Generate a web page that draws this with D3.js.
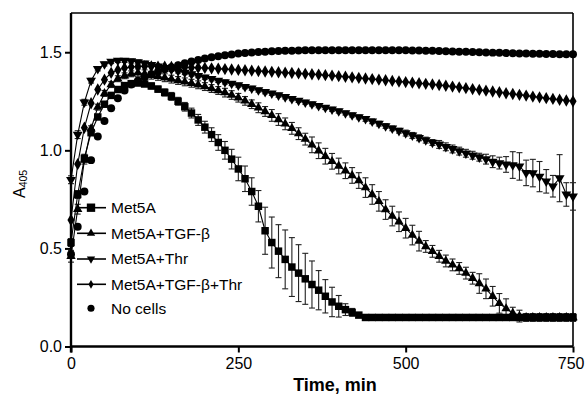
<!DOCTYPE html>
<html><head><meta charset="utf-8">
<script src="https://cdn.jsdelivr.net/npm/d3@7"></script>
<style>
html,body{margin:0;padding:0;background:#fff;}
svg{display:block;font-family:"Liberation Sans",Arial,Helvetica,sans-serif;}
</style></head>
<body><svg id="c" width="585" height="395"></svg>
<script>
const times = [0,10,20,30,40,50,60,70,80,90,100,110,120,130,140,150,160,170,180,190,200,210,220,230,240,250,260,270,280,290,300,310,320,330,340,350,360,370,380,390,400,410,420,430,440,450,460,470,480,490,500,510,520,530,540,550,560,570,580,590,600,610,620,630,640,650,660,670,680,690,700,710,720,730,740,750];

const met5a = [0.53,0.775,0.96,1.09,1.17,1.235,1.28,1.31,1.33,1.34,1.343,1.338,1.328,1.312,1.295,1.275,1.25,1.222,1.19,1.155,1.118,1.08,1.04,1.0,0.955,0.905,0.855,0.79,0.715,0.59,0.53,0.486,0.444,0.405,0.374,0.345,0.316,0.287,0.256,0.227,0.205,0.188,0.174,0.16,0.148,0.148,0.148,0.148,0.148,0.148,0.148,0.148,0.148,0.148,0.148,0.148,0.148,0.148,0.148,0.148,0.148,0.148,0.148,0.148,0.148,0.148,0.148,0.148,0.148,0.148,0.148,0.148,0.148,0.148,0.148,0.148];
const met5aErr = [0.02,0.02,0.02,0.015,0.01,0.01,0.01,0.01,0.01,0.01,0.012,0.012,0.015,0.015,0.018,0.02,0.02,0.022,0.025,0.028,0.03,0.035,0.04,0.045,0.05,0.06,0.065,0.07,0.08,0.12,0.13,0.135,0.15,0.15,0.145,0.13,0.12,0.1,0.085,0.075,0.055,0.03,0.02,0.012,0,0,0,0,0,0,0,0,0,0,0,0,0,0,0,0,0,0,0,0,0,0,0,0,0,0,0,0,0,0,0,0];

const tgf = [0.46,0.70,0.95,1.11,1.22,1.29,1.335,1.365,1.38,1.39,1.395,1.39,1.383,1.377,1.37,1.363,1.356,1.349,1.342,1.334,1.325,1.315,1.305,1.294,1.282,1.268,1.252,1.235,1.217,1.198,1.178,1.157,1.135,1.112,1.085,1.057,1.028,0.998,0.97,0.944,0.92,0.896,0.872,0.846,0.81,0.775,0.74,0.698,0.665,0.636,0.603,0.568,0.537,0.51,0.485,0.46,0.436,0.416,0.398,0.374,0.348,0.321,0.294,0.256,0.22,0.193,0.17,0.155,0.148,0.148,0.148,0.148,0.148,0.148,0.148,0.148];
const tgfErr = [0.03,0.025,0.02,0.015,0.015,0.015,0.015,0.015,0.015,0.015,0.02,0.02,0.02,0.02,0.02,0.02,0.02,0.02,0.02,0.02,0.02,0.02,0.02,0.022,0.022,0.022,0.022,0.022,0.025,0.025,0.03,0.03,0.03,0.03,0.03,0.03,0.04,0.04,0.04,0.04,0.04,0.04,0.04,0.04,0.05,0.05,0.05,0.05,0.05,0.05,0.05,0.05,0.05,0.03,0.03,0.03,0.03,0.03,0.03,0.03,0.03,0.05,0.05,0.05,0.05,0.05,0.03,0.03,0.02,0.02,0.02,0.02,0.02,0.02,0.02,0.02];

const thr = [0.85,1.08,1.245,1.355,1.415,1.44,1.452,1.458,1.458,1.455,1.45,1.444,1.436,1.428,1.42,1.412,1.404,1.396,1.388,1.38,1.372,1.364,1.356,1.348,1.34,1.332,1.324,1.316,1.307,1.298,1.29,1.281,1.272,1.263,1.254,1.245,1.236,1.227,1.218,1.209,1.2,1.19,1.18,1.17,1.16,1.148,1.136,1.124,1.112,1.1,1.088,1.076,1.064,1.052,1.04,1.03,1.018,1.007,0.996,0.985,0.975,0.965,0.955,0.942,0.935,0.928,0.925,0.918,0.885,0.884,0.866,0.842,0.817,0.858,0.775,0.765];
const thrErr = [0.02,0.02,0.015,0.012,0.01,0.01,0.01,0.01,0.01,0.01,0.01,0.01,0.01,0.01,0.01,0.01,0.01,0.01,0.01,0.01,0.01,0.01,0.01,0.01,0.01,0.01,0.01,0.01,0.01,0.01,0.01,0.01,0.01,0.01,0.01,0.01,0.01,0.01,0.01,0.01,0.01,0.01,0.01,0.01,0.012,0.012,0.012,0.012,0.012,0.012,0.015,0.015,0.015,0.015,0.015,0.02,0.02,0.02,0.02,0.02,0.02,0.02,0.025,0.03,0.03,0.04,0.068,0.07,0.065,0.07,0.077,0.06,0.055,0.12,0.06,0.07];

const tgfThr = [0.645,0.93,1.115,1.24,1.31,1.36,1.395,1.41,1.42,1.425,1.427,1.428,1.428,1.427,1.426,1.425,1.424,1.423,1.422,1.421,1.42,1.418,1.416,1.414,1.412,1.41,1.408,1.406,1.404,1.402,1.4,1.398,1.396,1.394,1.392,1.39,1.388,1.386,1.383,1.381,1.378,1.375,1.372,1.369,1.366,1.363,1.36,1.357,1.354,1.351,1.348,1.345,1.342,1.339,1.336,1.333,1.329,1.325,1.321,1.317,1.312,1.308,1.304,1.3,1.296,1.291,1.287,1.283,1.279,1.274,1.27,1.266,1.262,1.258,1.254,1.25];

const noCells = [0.47,0.61,0.79,0.95,1.07,1.15,1.215,1.265,1.305,1.335,1.355,1.372,1.388,1.401,1.413,1.424,1.434,1.444,1.453,1.461,1.468,1.474,1.48,1.485,1.489,1.493,1.496,1.499,1.501,1.503,1.505,1.506,1.507,1.508,1.509,1.51,1.51,1.51,1.51,1.51,1.51,1.51,1.51,1.51,1.51,1.51,1.51,1.51,1.51,1.51,1.51,1.509,1.509,1.508,1.507,1.506,1.505,1.504,1.503,1.502,1.501,1.5,1.499,1.498,1.497,1.496,1.495,1.494,1.493,1.492,1.492,1.491,1.491,1.49,1.49,1.49];

const seriesNames = ["Met5A","Met5A+TGF-β","Met5A+Thr","Met5A+TGF-β+Thr","No cells"];
const xTicks = [0,250,500,750];
const yTicks = [0.0,0.5,1.0,1.5];

const series = [
  {name: seriesNames[4], v: noCells, e: null, sym: d3.symbolCircle, size: 50, rot: 0, line: false},
  {name: seriesNames[3], v: tgfThr, e: null, sym: d3.symbolDiamond, size: 44, rot: 0, line: true},
  {name: seriesNames[2], v: thr, e: thrErr, sym: d3.symbolTriangle, size: 42, rot: 180, line: true},
  {name: seriesNames[1], v: tgf, e: tgfErr, sym: d3.symbolTriangle, size: 38, rot: 0, line: true},
  {name: seriesNames[0], v: met5a, e: met5aErr, sym: d3.symbolSquare, size: 56, rot: 0, line: true}
];

const svg = d3.select("#c");
const x = d3.scaleLinear().domain([0,750]).range([71,573]);
const y = d3.scaleLinear().domain([0,1.7]).range([346.5,13]);

// frame top and right
svg.append("line").attr("x1",71).attr("x2",573).attr("y1",y(1.7)).attr("y2",y(1.7)).attr("stroke","#000").attr("stroke-width",1.6);
svg.append("line").attr("x1",x(750)).attr("x2",x(750)).attr("y1",y(1.7)).attr("y2",y(0)).attr("stroke","#000").attr("stroke-width",1.6);

const plot = svg.append("g");

// error bars
series.forEach(s => {
  if (!s.e) return;
  const g = plot.append("g").attr("stroke","#222").attr("stroke-width",1.1).attr("fill","none");
  times.forEach((t,i) => {
    const e = s.e[i];
    if (!e) return;
    const cx = x(t), y1 = y(s.v[i]-e), y2 = y(s.v[i]+e);
    g.append("line").attr("x1",cx).attr("x2",cx).attr("y1",y1).attr("y2",y2);
    g.append("line").attr("x1",cx-3).attr("x2",cx+3).attr("y1",y1).attr("y2",y1);
    g.append("line").attr("x1",cx-3).attr("x2",cx+3).attr("y1",y2).attr("y2",y2);
  });
});

// lines
series.forEach(s => {
  if (!s.line) return;
  plot.append("path")
    .datum(times.map((t,i)=>[t,s.v[i]]))
    .attr("fill","none").attr("stroke","#000").attr("stroke-width",1.1)
    .attr("d", d3.line().x(d=>x(d[0])).y(d=>y(d[1])));
});

// markers
series.forEach(s => {
  const path = d3.symbol().type(s.sym).size(s.size)();
  plot.append("g").selectAll("path").data(times.map((t,i)=>[t,s.v[i]])).join("path")
    .attr("d", path)
    .attr("transform", d => `translate(${x(d[0])},${y(d[1])}) rotate(${s.rot})`)
    .attr("fill","#000");
});

// axes
const yAxis = d3.axisLeft(y).tickValues(yTicks).tickFormat(d3.format(".1f")).tickSize(6).tickPadding(3);
const gy = svg.append("g").attr("transform","translate(71,0)").call(yAxis);
const xAxis = d3.axisBottom(x).tickValues(xTicks).tickFormat(d3.format("d")).tickSize(6).tickPadding(5);
const gx = svg.append("g").attr("transform",`translate(0,${y(0)})`).call(xAxis);
[gx,gy].forEach(g => {
  g.select(".domain").attr("stroke","#000").attr("stroke-width",2.4);
  g.selectAll(".tick line").attr("stroke","#000").attr("stroke-width",2);
  g.selectAll(".tick text").attr("fill","#000").style("font-size","16px").style("font-family","'Liberation Sans',Arial,sans-serif");
});
gy.select(".domain").attr("d", `M-0,${y(1.7)}V${y(0)+6}`);
gx.select(".domain").attr("d", `M71,0H573`);
gx.selectAll(".tick text").filter(d => d === 750).attr("text-anchor","end").attr("x", 11);

// axis titles
svg.append("text").attr("x",335).attr("y",391).attr("text-anchor","middle")
  .style("font-size","18px").style("font-weight","bold").text("Time, min");
const yt = svg.append("text").attr("transform","translate(25,198) rotate(-90)").style("font-size","16px");
yt.append("tspan").text("A");
yt.append("tspan").attr("dy",2).style("font-size","10.5px").text("405");

// legend
const legRows = [207.7,233.3,259,284.3,308.3];
const legOrder = [4,3,2,1,0];
const legSizes = [70,30,30,22,40];
legOrder.forEach((si,k) => {
  const s = series[si];
  const ly = legRows[k];
  const g = svg.append("g");
  if (s.line) g.append("line").attr("x1",77).attr("x2",106).attr("y1",ly).attr("y2",ly).attr("stroke","#000").attr("stroke-width",1.6);
  g.append("path").attr("d", d3.symbol().type(s.sym).size(legSizes[k])()).attr("transform",`translate(91,${ly}) rotate(${s.rot})`).attr("fill","#000");
  g.append("text").attr("x",111).attr("y",ly).attr("dy","0.35em").style("font-size","15.5px").text(s.name);
});
</script>
</body></html>
